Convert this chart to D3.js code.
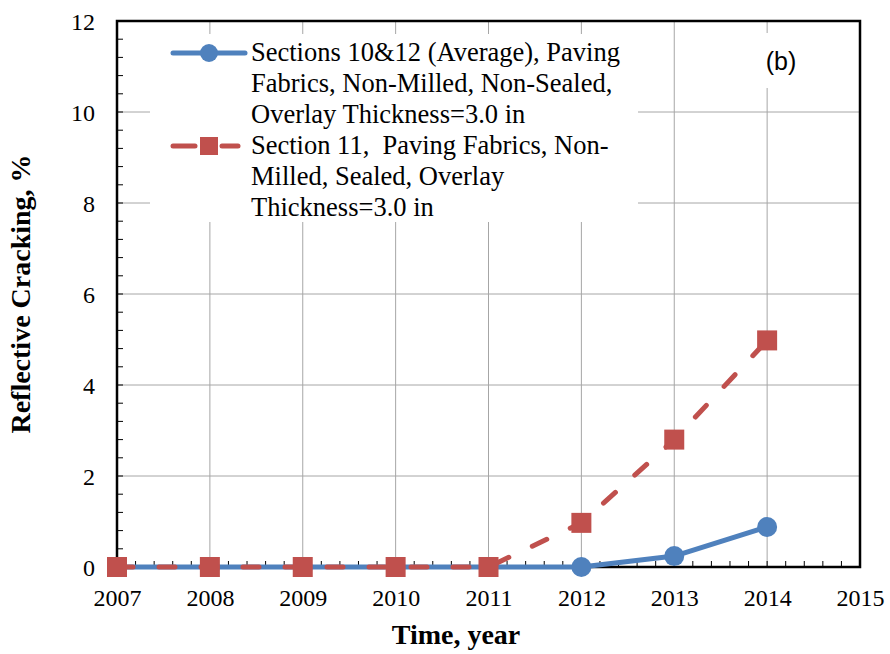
<!DOCTYPE html>
<html>
<head>
	<title>Reflective Cracking</title>
	<script src="https://cdnjs.cloudflare.com/ajax/libs/d3/7.8.5/d3.min.js"></script>
	<style>
		body { margin: 0; background: white; }
		text { font-family: "Liberation Serif", "Times New Roman", serif; white-space: pre; }
		.tick text { font-size: 24px; fill: black; }
		.grid line { stroke: #a6a6a6; stroke-width: 1; }
	</style>
</head>
<body>
<svg id="main" width="890" height="654"></svg>
<script>
	// data
	var years = [2007, 2008, 2009, 2010, 2011, 2012, 2013, 2014];
	var sections1012 = [0, 0, 0, 0, 0, 0, 0.24, 0.88];
	var section11 = [0, 0, 0, 0, 0, 0.97, 2.8, 4.98];
	var xTicks = [2007, 2008, 2009, 2010, 2011, 2012, 2013, 2014, 2015];
	var yTicks = [0, 2, 4, 6, 8, 10, 12];
	var legend1 = ["Sections 10&12 (Average), Paving", "Fabrics, Non-Milled, Non-Sealed,", "Overlay Thickness=3.0 in"];
	var legend2 = ["Section 11,  Paving Fabrics, Non-", "Milled, Sealed, Overlay", "Thickness=3.0 in"];

	var BLUE = "#4f81bd", RED = "#c0504d";
	var pLeft = 117, pRight = 860, pTop = 21, pBottom = 567;

	var svg = d3.select("#main");
	var x = d3.scaleLinear().domain([2007, 2015]).range([pLeft, pRight]);
	var y = d3.scaleLinear().domain([0, 12]).range([pBottom, pTop]);

	// gridlines
	var grid = svg.append("g").attr("class", "grid");
	grid.selectAll(".v").data(xTicks).enter().append("line")
		.attr("x1", d => x(d)).attr("x2", d => x(d))
		.attr("y1", pTop).attr("y2", pBottom);
	grid.selectAll(".h").data(yTicks).enter().append("line")
		.attr("x1", pLeft).attr("x2", pRight)
		.attr("y1", d => y(d)).attr("y2", d => y(d));

	// white boxes behind legend and panel letter
	svg.append("rect").attr("x", 150).attr("y", 34).attr("width", 488).attr("height", 188).attr("fill", "white");
	svg.append("rect").attr("x", 755).attr("y", 33).attr("width", 50).attr("height", 55).attr("fill", "white");

	// minor ticks (inward)
	var xMinor = d3.range(2007, 2015.001, 0.2);
	svg.append("g").selectAll("line").data(xMinor).enter().append("line")
		.attr("x1", d => x(d)).attr("x2", d => x(d))
		.attr("y1", pBottom).attr("y2", pBottom - 6)
		.attr("stroke", "black").attr("stroke-width", 1);
	var yMinor = d3.range(0, 12.001, 0.4);
	svg.append("g").selectAll("line").data(yMinor).enter().append("line")
		.attr("x1", pLeft).attr("x2", pLeft + 6)
		.attr("y1", d => y(d)).attr("y2", d => y(d))
		.attr("stroke", "black").attr("stroke-width", 1);

	// axes
	var xAxis = svg.append("g").attr("transform", "translate(0," + pBottom + ")")
		.call(d3.axisBottom(x).tickValues(xTicks).tickFormat(d3.format("d")).tickSize(0).tickPadding(22));
	var yAxis = svg.append("g").attr("transform", "translate(" + pLeft + ",0)")
		.call(d3.axisLeft(y).tickValues(yTicks).tickSize(0).tickPadding(22));
	xAxis.select(".domain").remove();
	yAxis.select(".domain").remove();
	xAxis.selectAll("text").attr("dy", "0.71em");
	yAxis.selectAll("text").attr("dy", "0.35em");

	// plot frame
	svg.append("rect").attr("x", pLeft).attr("y", pTop)
		.attr("width", pRight - pLeft).attr("height", pBottom - pTop)
		.attr("fill", "none").attr("stroke", "black").attr("stroke-width", 2.5);

	// series
	var line = d3.line().x((d, i) => x(years[i])).y(d => y(d));

	svg.append("path").datum(sections1012).attr("d", line)
		.attr("fill", "none").attr("stroke", BLUE).attr("stroke-width", 5).attr("stroke-linejoin", "round");
	svg.append("g").selectAll("circle").data(sections1012).enter().append("circle")
		.attr("cx", (d, i) => x(years[i])).attr("cy", d => y(d)).attr("r", 10).attr("fill", BLUE);

	svg.append("path").datum(section11).attr("d", line)
		.attr("fill", "none").attr("stroke", RED).attr("stroke-width", 5)
		.attr("stroke-dasharray", "16,26").attr("stroke-linecap", "round");
	svg.append("g").selectAll("rect").data(section11).enter().append("rect")
		.attr("x", (d, i) => x(years[i]) - 10).attr("y", d => y(d) - 10)
		.attr("width", 20).attr("height", 20).attr("fill", RED);

	// legend
	var lg = svg.append("g");
	lg.append("line").attr("x1", 173).attr("x2", 245).attr("y1", 53).attr("y2", 53)
		.attr("stroke", BLUE).attr("stroke-width", 5).attr("stroke-linecap", "round");
	lg.append("circle").attr("cx", 209).attr("cy", 53).attr("r", 9).attr("fill", BLUE);
	lg.append("line").attr("x1", 173).attr("x2", 195).attr("y1", 146).attr("y2", 146)
		.attr("stroke", RED).attr("stroke-width", 5).attr("stroke-linecap", "round");
	lg.append("line").attr("x1", 222).attr("x2", 238).attr("y1", 146).attr("y2", 146)
		.attr("stroke", RED).attr("stroke-width", 5).attr("stroke-linecap", "round");
	lg.append("rect").attr("x", 200).attr("y", 137).attr("width", 18).attr("height", 18).attr("fill", RED);

	lg.selectAll(".l1").data(legend1).enter().append("text")
		.attr("x", 251).attr("y", (d, i) => 61 + i * 31)
		.attr("font-size", 26.5).text(d => d);
	lg.selectAll(".l2").data(legend2).enter().append("text")
		.attr("x", 251).attr("y", (d, i) => 154 + i * 31)
		.attr("font-size", 26.5).text(d => d);

	svg.append("text").attr("x", 781).attr("y", 70).attr("text-anchor", "middle")
		.style("font-family", "'Liberation Sans', Arial, sans-serif").attr("font-size", 25).text("(b)");

	// axis titles
	svg.append("text").attr("x", 456).attr("y", 644).attr("text-anchor", "middle")
		.attr("font-size", 28).attr("font-weight", "bold").text("Time, year");
	svg.append("text").attr("transform", "translate(30," + ((pTop + pBottom) / 2) + ") rotate(-90)")
		.attr("text-anchor", "middle").attr("font-size", 28).attr("font-weight", "bold")
		.text("Reflective Cracking, %");
</script>
</body>
</html>
